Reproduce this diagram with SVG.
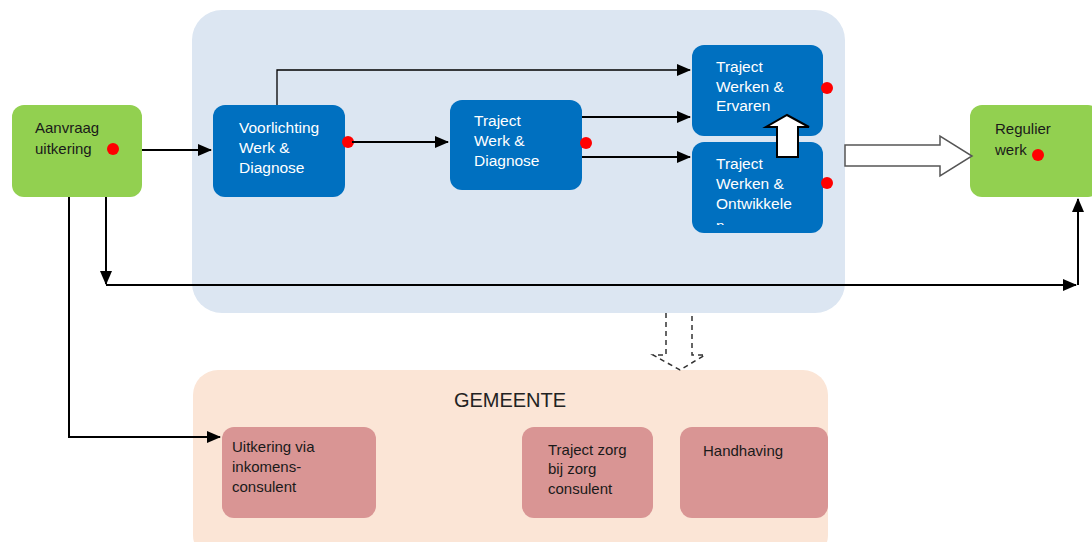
<svg xmlns="http://www.w3.org/2000/svg" width="1092" height="542" viewBox="0 0 1092 542">
<style>
.cont{fill:#dce6f2}
.gem{fill:#fbe5d6}
.blue{fill:#0070c0}
.green{fill:#92d050}
.pink{fill:#d99594}
.dot{fill:#ff0000}
.wt{font-family:"Liberation Sans",Arial,sans-serif;font-size:15.5px;fill:#ffffff}
.dt{font-family:"Liberation Sans",Arial,sans-serif;font-size:15px;fill:#1a1a1a}
.ln{fill:none;stroke:#000;stroke-width:2}
.thin{fill:none;stroke:#000;stroke-width:1.3}
</style>
<defs>
<marker id="ah2" markerWidth="14" markerHeight="12" refX="13" refY="6" orient="auto" markerUnits="userSpaceOnUse"><path d="M0,0 L14,6 L0,12 z" fill="#000"/></marker>
<clipPath id="clipOnt"><rect x="692" y="142" width="131" height="83"/></clipPath>
</defs>
<rect width="1092" height="542" fill="#ffffff"/>
<g id="container-main"><rect class="cont" x="192" y="10" width="653" height="303" rx="30"/></g>
<g id="container-gemeente"><rect class="gem" x="193" y="370" width="635" height="190" rx="25"/>
<text x="510" y="407" text-anchor="middle" font-family="'Liberation Sans',Arial,sans-serif" font-size="20" fill="#222">GEMEENTE</text></g>
<g id="node-aanvraag"><rect class="green" x="12" y="105" width="130" height="92" rx="12"/>
<text class="dt" x="35" y="133">Aanvraag</text><text class="dt" x="35" y="154">uitkering</text>
<circle class="dot" cx="113" cy="149" r="6"/></g>
<g id="node-voorlichting"><rect class="blue" x="213" y="105" width="132" height="92" rx="12"/>
<text class="wt" x="239" y="133">Voorlichting</text><text class="wt" x="239" y="153">Werk &amp;</text><text class="wt" x="239" y="173">Diagnose</text>
<circle class="dot" cx="348" cy="142" r="6"/></g>
<g id="node-twd"><rect class="blue" x="450" y="100" width="132" height="90" rx="12"/>
<text class="wt" x="474" y="126">Traject</text><text class="wt" x="474" y="146">Werk &amp;</text><text class="wt" x="474" y="166">Diagnose</text>
<circle class="dot" cx="586" cy="143" r="6"/></g>
<g id="node-ervaren"><rect class="blue" x="692" y="45" width="131" height="91" rx="12"/>
<text class="wt" x="716" y="72">Traject</text><text class="wt" x="716" y="92">Werken &amp;</text><text class="wt" x="716" y="111">Ervaren</text>
<circle class="dot" cx="827" cy="88" r="6"/></g>
<g id="node-ontwikkelen"><rect class="blue" x="692" y="142" width="131" height="91" rx="12"/>
<g clip-path="url(#clipOnt)"><text class="wt" x="716" y="169">Traject</text><text class="wt" x="716" y="189">Werken &amp;</text><text class="wt" x="716" y="209">Ontwikkele</text><text class="wt" x="716" y="231">n</text></g>
<circle class="dot" cx="827" cy="183" r="6"/></g>
<g id="node-regulier"><rect class="green" x="970" y="105" width="130" height="92" rx="12"/>
<text class="dt" x="995" y="134" font-size="14">Regulier</text><text class="dt" x="995" y="155" font-size="14">werk</text>
<circle class="dot" cx="1038" cy="155" r="6"/></g>
<g id="node-uitkering"><rect class="pink" x="222" y="427" width="154" height="91" rx="12"/>
<text class="dt" x="232" y="452" font-size="14">Uitkering via</text><text class="dt" x="232" y="472" font-size="14">inkomens-</text><text class="dt" x="232" y="492" font-size="14">consulent</text></g>
<g id="node-zorg"><rect class="pink" x="522" y="427" width="131" height="91" rx="12"/>
<text class="dt" x="548" y="455">Traject zorg</text><text class="dt" x="548" y="474">bij zorg</text><text class="dt" x="548" y="494">consulent</text></g>
<g id="node-handhaving"><rect class="pink" x="680" y="427" width="148" height="91" rx="12"/>
<text class="dt" x="703" y="456" font-size="15.5">Handhaving</text></g>
<g id="connectors">
<path class="ln" d="M142,150 L211,150" marker-end="url(#ah2)"/>
<path class="ln" d="M352,142 L448,142" marker-end="url(#ah2)"/>
<path class="thin" d="M277,105 L277,70 L690,70" marker-end="url(#ah2)"/>
<path class="ln" d="M582,117 L690,117" marker-end="url(#ah2)"/>
<path class="ln" d="M582,157 L690,157" marker-end="url(#ah2)"/>
<path class="ln" d="M106,197 L106,284" marker-end="url(#ah2)"/>
<path class="ln" d="M106,285 L1076,285" marker-end="url(#ah2)"/>
<path class="ln" d="M1078,285 L1078,199" marker-end="url(#ah2)"/>
<path class="ln" d="M69,197 L69,437 L220,437" marker-end="url(#ah2)"/>
<path d="M777,157 L777,127 L766,127 L787,115 L809,127 L798,127 L798,157 Z" fill="#fff" stroke="#000" stroke-width="2"/>
<path d="M845,145 L940,145 L940,136 L972,156 L940,176 L940,166 L845,166 Z" fill="#fff" stroke="#555" stroke-width="1.5"/>
<path d="M666,313 L666,355 L653,355 L680,370 L705,355 L692,355 L692,313" fill="#fff" stroke="#333" stroke-width="1.5" stroke-dasharray="5,4"/>
</g>
</svg>
